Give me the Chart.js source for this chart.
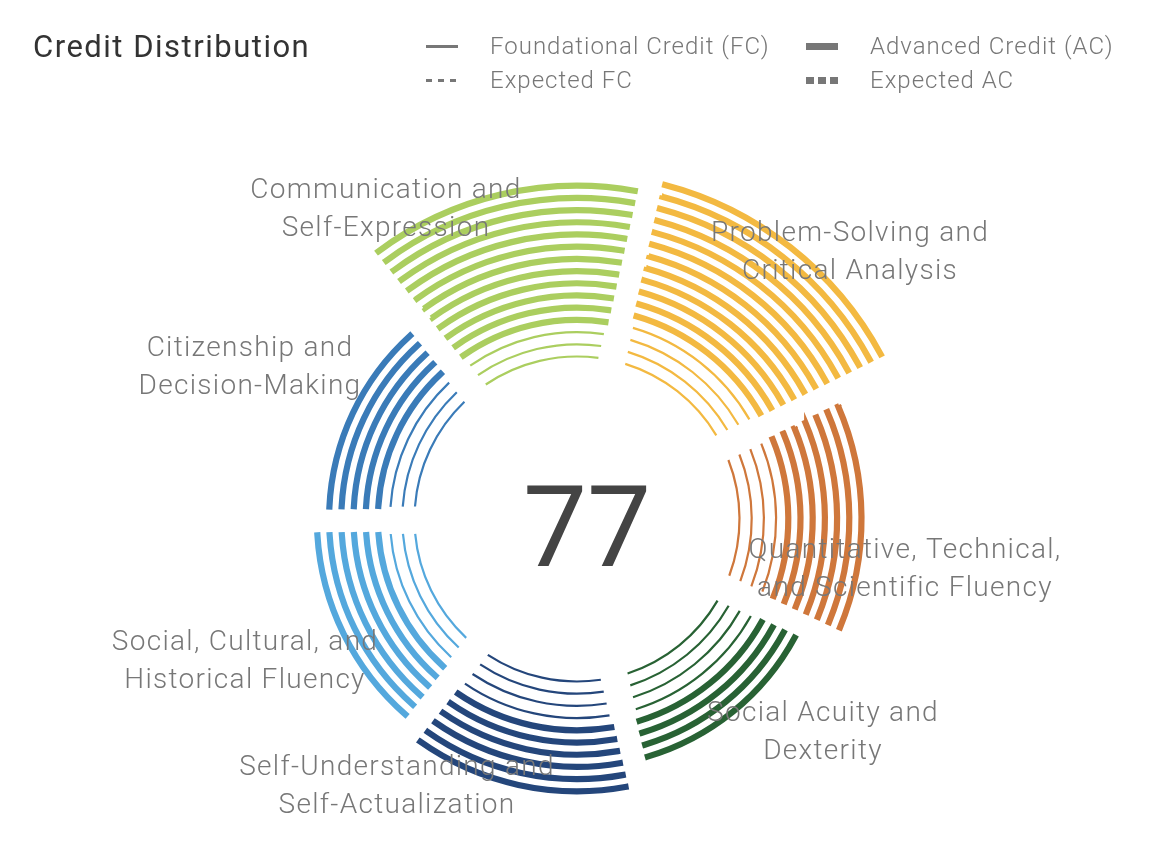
<!DOCTYPE html>
<html>
<head>
<meta charset="utf-8">
<title>Credit Distribution</title>
<script src="https://cdn.jsdelivr.net/npm/chart.js@4.4.1/dist/chart.umd.min.js"></script>
<style>
  html, body { margin: 0; padding: 0; background: #fff; }
  #wrap { position: relative; width: 1154px; height: 850px; font-family: Roboto, "Noto Sans", sans-serif; }
  #wrap canvas { position: absolute; left: 0; top: 0; }
  .title { position: absolute; left: 33px; top: 27px; font-size: 31px; line-height: 40px; color: #333; letter-spacing: 1.5px; }
  .item { position: absolute; height: 30px; display: flex; align-items: center; color: #777; font-size: 24px; font-weight: 300; letter-spacing: 1px; }
  .item .swatch { width: 32px; margin-right: 32px; }
  .fc  { height: 3px; background: #777; }
  .ac  { height: 7px; background: #777; }
  .xfc { height: 3px; background: repeating-linear-gradient(to right, #777 0 6px, transparent 6px 12px); }
  .xac { height: 7px; background: repeating-linear-gradient(to right, #777 0 8px, transparent 8px 12px); }
</style>
</head>
<body>
<div id="wrap">
  <canvas id="chart" width="1154" height="850"></canvas>
  <div class="title">Credit Distribution</div>
  <div class="item" style="left:426px; top:31px"><span class="swatch fc"></span>Foundational Credit (FC)</div>
  <div class="item" style="left:806px; top:31px"><span class="swatch ac"></span>Advanced Credit (AC)</div>
  <div class="item" style="left:426px; top:65px"><span class="swatch xfc"></span>Expected FC</div>
  <div class="item" style="left:806px; top:65px"><span class="swatch xac"></span>Expected AC</div>
</div>
<script>
const categories = [
  'Communication and Self-Expression',
  'Problem-Solving and Critical Analysis',
  'Quantitative, Technical, and Scientific Fluency',
  'Social Acuity and Dexterity',
  'Self-Understanding and Self-Actualization',
  'Social, Cultural, and Historical Fluency',
  'Citizenship and Decision-Making'
];
const foundationalCredits = [3, 4, 4, 4, 4, 3, 3];
const advancedCredits     = [12, 12, 7, 4, 6, 6, 5];
const expectedFC          = [0, 0, 0, 0, 0, 0, 0];
const expectedAC          = [0, 0, 0, 0, 0, 0, 0];
const sectorColors = ['#abce5f', '#f3b941', '#cf773b', '#286234', '#24467b', '#54a8dd', '#3a7bb8'];

// label text broken into lines, and where each one sits relative to the centre
const labelLines = [
  ['Communication and', 'Self-Expression'],
  ['Problem-Solving and', 'Critical Analysis'],
  ['Quantitative, Technical,', 'and Scientific Fluency'],
  ['Social Acuity and', 'Dexterity'],
  ['Self-Understanding and', 'Self-Actualization'],
  ['Social, Cultural, and', 'Historical Fluency'],
  ['Citizenship and', 'Decision-Making']
];
const labelOffsets = [[-191, -309], [273, -266], [328, 51], [246, 214], [-180, 268], [-332, 143], [-327, -151]];

// ring geometry (px)
const THIN = 2.2;      // foundational arc
const THICK_EXTRA = 4; // border added for advanced arcs
const GAP = 10;
const SPACING = 56;
const INNER = 133.4;

const CLEAR = 'rgba(0,0,0,0)';

function kindOf(s, k) {
  const f = foundationalCredits[s], a = advancedCredits[s], xf = expectedFC[s], xa = expectedAC[s];
  if (k < f) return 'fc';
  if (k < f + a) return 'ac';
  if (k < f + a + xf) return 'xfc';
  if (k < f + a + xf + xa) return 'xac';
  return null;
}

const totals = categories.map((c, i) => foundationalCredits[i] + advancedCredits[i] + expectedFC[i] + expectedAC[i]);
const slots = Math.max(...totals);
const earned = foundationalCredits.concat(advancedCredits).reduce((a, b) => a + b, 0);

const datasets = [];
for (let k = slots - 1; k >= 0; k--) {
  const kinds = categories.map((c, s) => kindOf(s, k));
  datasets.push({
    label: 'ring ' + k,
    data: categories.map(() => 1),
    weight: THIN,
    spacing: SPACING,
    backgroundColor: kinds.map((kd, s) => (kd === 'fc' || kd === 'ac') ? sectorColors[s] : CLEAR),
    borderColor: kinds.map((kd, s) => kd ? sectorColors[s] : CLEAR),
    borderWidth: kinds.map(kd => kd === 'ac' ? THICK_EXTRA : kd === 'xfc' ? 1.5 : kd === 'xac' ? THICK_EXTRA : 0),
    borderDash: ctx => (kinds[ctx.dataIndex] || '').startsWith('x') ? [6, 4] : [],
    borderJoinStyle: 'miter'
  });
  if (k > 0) {
    datasets.push({
      label: 'gap ' + k,
      data: categories.map(() => 1),
      weight: GAP,
      spacing: SPACING,
      backgroundColor: CLEAR,
      borderWidth: 0
    });
  }
}

const totalWeight = slots * THIN + (slots - 1) * GAP;
const OUTER = INNER + totalWeight;

const labelPlugin = {
  id: 'arcLabels',
  afterDatasetsDraw(chart) {
    const arc = chart.getDatasetMeta(0).data[0];
    const cx = arc.x, cy = arc.y;
    const ctx = chart.ctx;
    ctx.save();
    ctx.textAlign = 'center';
    ctx.textBaseline = 'middle';
    ctx.font = '300 28px Roboto';
    ctx.letterSpacing = '1.3px';
    ctx.fillStyle = '#777';
    labelLines.forEach((lines, i) => {
      const [dx, dy] = labelOffsets[i];
      lines.forEach((t, j) => {
        ctx.fillText(t, cx + dx, cy + dy + (j - (lines.length - 1) / 2) * 38);
      });
    });
    ctx.letterSpacing = '0px';
    ctx.font = '400 114px Roboto';
    ctx.fillStyle = '#444';
    ctx.textBaseline = 'alphabetic';
    ctx.fillText(String(earned), cx + 10, cy + 47);
    ctx.restore();
  }
};

new Chart(document.getElementById('chart'), {
  type: 'doughnut',
  data: { labels: categories, datasets: datasets },
  options: {
    responsive: false,
    animation: false,
    events: [],
    rotation: -39,
    radius: OUTER,
    cutout: (INNER / OUTER * 100) + '%',
    layout: { padding: { top: 188, left: 0, right: 0, bottom: 0 } },
    plugins: { legend: { display: false }, tooltip: { enabled: false }, title: { display: false } }
  },
  plugins: [labelPlugin]
});
</script>
</body>
</html>
